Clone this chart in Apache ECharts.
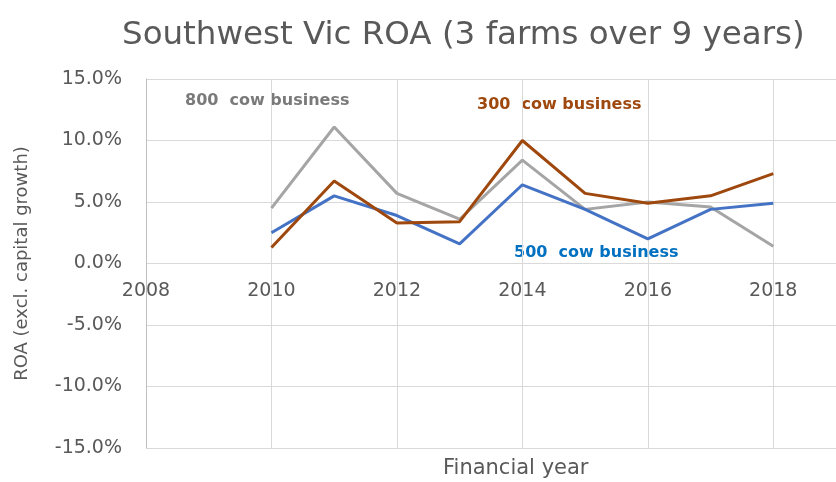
<!DOCTYPE html>
<html>
<head>
<meta charset="utf-8">
<script src="https://cdn.jsdelivr.net/npm/echarts@6/dist/echarts.min.js"></script>
<style>
  html, body { margin: 0; padding: 0; background: #fff; }
  #chart { width: 836px; height: 482px; }
</style>
</head>
<body>
<div id="chart"></div>
<script>
// Financial years and return on assets (%) for each farm size
const years = [2010, 2011, 2012, 2013, 2014, 2015, 2016, 2017, 2018];
const roa800 = [4.5, 11.1, 5.7, 3.6, 8.4, 4.4, 5.0, 4.6, 1.4];
const roa300 = [1.3, 6.7, 3.3, 3.4, 10.0, 5.7, 4.9, 5.5, 7.3];
const roa500 = [2.5, 5.5, 3.9, 1.6, 6.4, 4.4, 2.0, 4.4, 4.9];

const FONT = '"DejaVu Sans", "Open Sans", sans-serif';
const AXIS_TEXT = '#595959';
const GRID = '#d9d9d9';

const pair = (vals) => years.map((y, i) => [y, vals[i]]);

const chart = echarts.init(document.getElementById('chart'));
chart.setOption({
  backgroundColor: '#fff',
  animation: false,
  title: {
    text: 'Southwest Vic ROA (3 farms over 9 years)',
    left: 117,
    top: 14,
    textStyle: { fontFamily: FONT, fontWeight: 'normal', fontSize: 32.5, color: AXIS_TEXT }
  },
  grid: { left: 146, right: 0, top: 79, bottom: 34 },
  xAxis: {
    type: 'value',
    min: 2008,
    max: 2019,
    interval: 2,
    // year labels sit just under the 0% line
    offset: -184,
    axisLine: { onZero: false, show: false },
    axisTick: { show: false },
    splitLine: { show: true, lineStyle: { color: GRID, width: 1 } },
    axisLabel: {
      margin: 18, fontSize: 19, color: AXIS_TEXT, fontFamily: FONT,
      showMaxLabel: false,
      formatter: (v) => String(v)
    }
  },
  yAxis: {
    type: 'value',
    min: -15,
    max: 15,
    interval: 5,
    name: 'ROA (excl. capital growth)',
    nameLocation: 'middle',
    nameGap: 115,
    nameTextStyle: { fontSize: 18, color: AXIS_TEXT, fontFamily: FONT },
    axisLine: { show: true, lineStyle: { color: '#bfbfbf' } },
    axisTick: { show: false },
    splitLine: { lineStyle: { color: GRID, width: 1 } },
    axisLabel: {
      margin: 24, fontSize: 19, color: AXIS_TEXT, fontFamily: FONT,
      formatter: (v) => v.toFixed(1) + '%'
    }
  },
  series: [
    { name: '800', type: 'line', data: pair(roa800), showSymbol: false,
      lineStyle: { color: '#a5a5a5', width: 3 }, z: 2 },
    { name: '500', type: 'line', data: pair(roa500), showSymbol: false,
      lineStyle: { color: '#4472c4', width: 3 }, z: 3 },
    { name: '300', type: 'line', data: pair(roa300), showSymbol: false,
      lineStyle: { color: '#9e480e', width: 3 }, z: 4 }
  ],
  graphic: [
    { type: 'text', left: 185, top: 93,
      style: { text: '800  cow business', fontSize: 16, fontWeight: 'bold', fill: '#7a7a7a', fontFamily: FONT } },
    { type: 'text', left: 477, top: 97,
      style: { text: '300  cow business', fontSize: 16, fontWeight: 'bold', fill: '#9e480e', fontFamily: FONT } },
    { type: 'text', left: 514, top: 245,
      style: { text: '500  cow business', fontSize: 16, fontWeight: 'bold', fill: '#0070c0', fontFamily: FONT } },
    { type: 'text', left: 443, top: 458,
      style: { text: 'Financial year', fontSize: 21, fill: AXIS_TEXT, fontFamily: FONT } }
  ]
});
</script>
</body>
</html>
